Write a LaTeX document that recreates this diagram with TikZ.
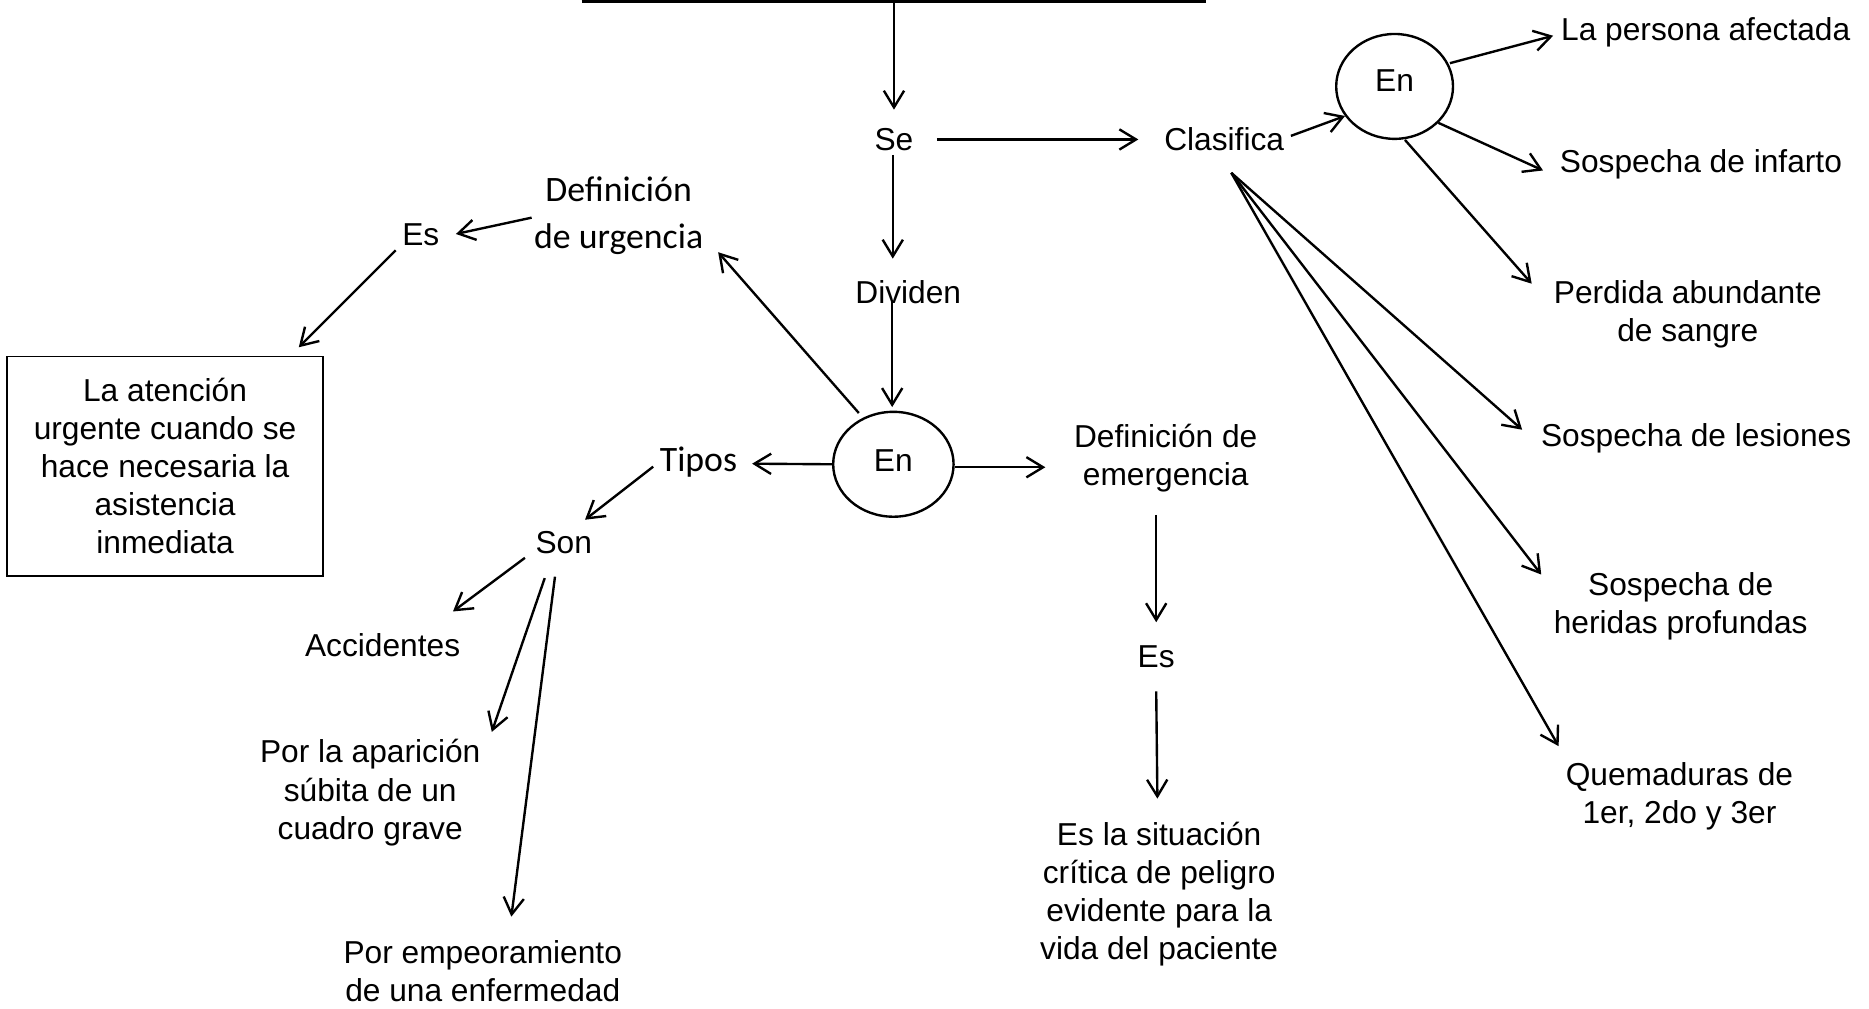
\documentclass[tikz,border=0pt]{standalone}
\usepackage{fontspec}
\setmainfont{Liberation Sans}
\newfontfamily\calfont{Carlito}
\usetikzlibrary{arrows.meta,calc,shapes.geometric}
\tikzset{
  txt/.style={inner sep=0pt, align=center, font=\fontsize{26.6}{32}\selectfont},
  caltxt/.style={inner sep=0pt, align=center, font=\calfont\fontsize{30}{40}\selectfont},
  arr/.style={line width=2pt, line join=round, -{Straight Barb[length=14pt,width=17pt,line width=2pt]}},
  bubble/.style={ellipse, draw, line width=2pt, inner sep=0pt, font=\fontsize{26.6}{32}\selectfont},
}
\begin{document}
\begin{tikzpicture}[x=1pt,y=-1pt]
\fill[white] (0,0) rectangle (1568,846);
\useasboundingbox (0,0) rectangle (1568,846);

% top box edge
\coordinate (topL) at (488,1.2);
\coordinate (topR) at (1012,1.2);
\coordinate (topM) at (750,1.2);
\draw[line width=2.2pt] (topL) -- (topR);

% nodes
\node[txt] (se) at (750,117) {Se};
\node[txt] (clas) at (1027,117) {Clasifica};
\node[bubble, minimum width=98pt, minimum height=88pt, text depth=9pt] (enR) at (1170,72.5) {En};
\node[txt] (lpa) at (1431,27) {La persona afectada};
\node[txt] (sdi) at (1427,138) {Sospecha de infarto};
\node[txt] (pas) at (1416,264) {Perdida abundante\\de sangre};
\node[txt] (sdl) at (1423,368) {Sospecha de lesiones};
\node[txt] (shp) at (1410,509) {Sospecha de\\heridas profundas};
\node[txt] (que) at (1409,668) {Quemaduras de\\1er, 2do y 3er};
\node[txt] (div) at (762,245) {Dividen};
\node[bubble, minimum width=101pt, minimum height=88pt, text depth=7pt] (enC) at (749.5,389.5) {En};
\node[caltxt] (dur) at (519,181) {Definición\\de urgencia};
\node[txt] (esL) at (353,197) {Es};
\node[txt, draw, line width=1.3pt, minimum width=265pt, minimum height=184pt] (box) at (138.5,391) {La atención\\urgente cuando se\\hace necesaria la\\asistencia\\inmediata};
\node[caltxt] (tipos) at (586,388) {Tipos};
\node[txt] (son) at (473,455) {Son};
\node[txt] (acc) at (321,541) {Accidentes};
\node[txt] (pap) at (310.6,665) {Por la aparición\\súbita de un\\cuadro grave};
\node[txt] (pem) at (405,815) {Por empeoramiento\\de una enfermedad};
\node[txt] (dem) at (978,384) {Definición de\\emergencia};
\node[txt] (esR) at (970,551) {Es};
\node[txt] (sit) at (972.5,750) {Es la situación\\crítica de peligro\\evidente para la\\vida del paciente};

% connectors
\draw[arr] (topM) -- ($(se)+(0,-25)$);
\draw[arr] ($(se)+(36,0)$) -- ($(clas)+(-72,0)$);
\draw[arr] ($(se)+(-1,13)$) -- ($(div)+(-13,-28)$);
\draw[arr] ($(div)+(-13.5,7)$) -- ($(enC.north)+(-1,-3)$);
\draw[arr] ($(clas)+(56,-3)$) -- ($(enR)+(-41.6,24.8)$);
\draw[arr] ($(enR)+(46.4,-19.5)$) -- ($(lpa)+(-128,3)$);
\draw[arr] ($(enR)+(36.6,30.5)$) -- ($(sdi)+(-132.5,5)$);
\draw[arr] ($(enR)+(8.7,44.9)$) -- ($(pas)+(-131,-26)$);
\draw[arr] ($(clas)+(6,28)$) -- ($(sdl)+(-146,-7.5)$);
\draw[arr] ($(clas)+(6,28)$) -- ($(shp)+(-117,-27)$);
\draw[arr] ($(clas)+(6,28)$) -- ($(que)+(-101.4,-42)$);
\draw[arr] ($(enC)+(-29,-43)$) -- ($(dur)+(83.5,30.6)$);
\draw[arr] ($(dur)+(-73,1.6)$) -- ($(esL)+(29.5,-0.7)$);
\draw[arr] ($(esL)+(-21,13)$) -- ($(box.north east)+(-21,-7)$);
\draw[arr] (enC.west) -- ($(tipos)+(45,1)$);
\draw[arr] ($(tipos)+(-38,3.5)$) -- ($(son)+(17.8,-19)$);
\draw[arr] ($(son)+(-32.6,13)$) -- ($(acc)+(59,-28)$);
\draw[arr] ($(son)+(-16,30)$) -- ($(pap)+(102,-51)$);
\draw[arr] ($(son)+(-7.4,28.8)$) -- ($(pem)+(24,-46)$);
\draw[arr] ($(enC.east)+(0,2.5)$) -- ($(dem)+(-101,8)$);
\draw[arr] ($(dem)+(-8,48)$) -- ($(esR)+(0,-29)$);
\draw[arr] ($(esR)+(0,29)$) -- ($(sit)+(-1.5,-80)$);
\end{tikzpicture}
\end{document}
